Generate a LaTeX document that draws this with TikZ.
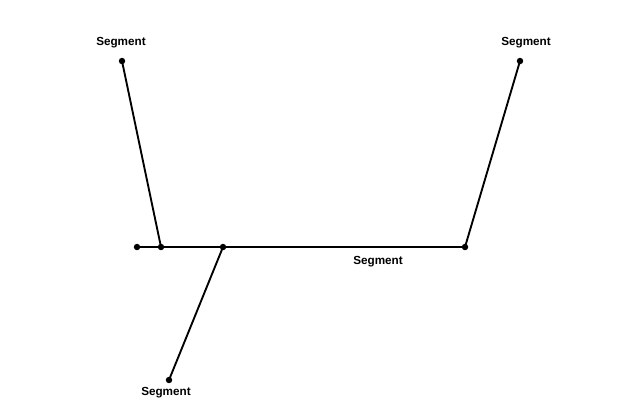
\documentclass[tikz,border=0pt]{standalone}
\usepackage{fontspec}
\setmainfont{Liberation Sans}
\begin{document}
\begin{tikzpicture}[x=0.03cm,y=-0.03cm,
  pt/.style={circle,fill=black,inner sep=0pt,minimum size=5.5pt},
  lbl/.style={font=\bfseries\fontsize{10}{12}\selectfont,inner sep=0pt},
  seg/.style={line width=1.6pt}]
\useasboundingbox (0,0) rectangle (640,411);
\node[pt] (a) at (122,61) {};
\node[pt] (b) at (161,247) {};
\node[pt] (c) at (137,247) {};
\node[pt] (d) at (223,247) {};
\node[pt] (e) at (465,247) {};
\node[pt] (f) at (520,61) {};
\node[pt] (g) at (169,380) {};
\draw[seg] (a.center) -- (b.center);
\draw[seg] (c.center) -- (e.center);
\draw[seg] (e.center) -- (f.center);
\draw[seg] (d.center) -- (g.center);
\node[lbl] (l1) at (121,43) {Segment};
\node[lbl] (l2) at (526,43) {Segment};
\node[lbl] (l3) at (378,262) {Segment};
\node[lbl] (l4) at (166,393) {Segment};
\end{tikzpicture}
\end{document}
